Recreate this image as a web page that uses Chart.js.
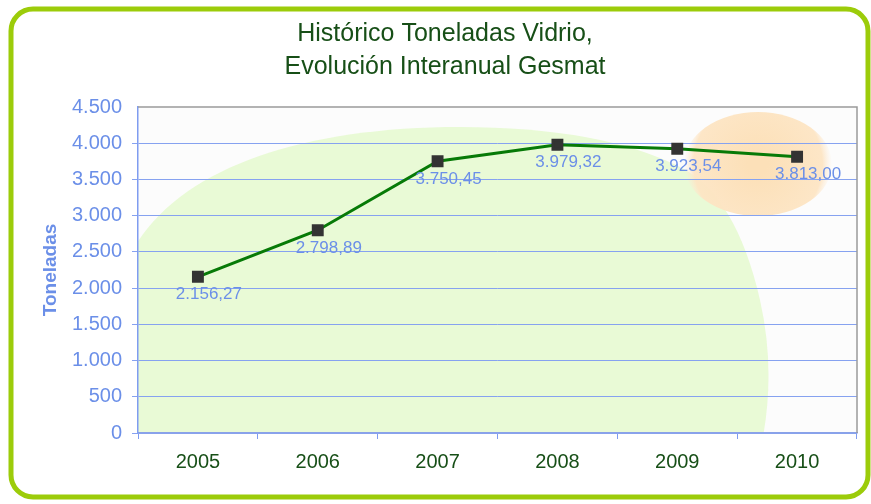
<!DOCTYPE html>
<html>
<head>
<meta charset="utf-8">
<script src="https://cdn.jsdelivr.net/npm/chart.js@4"></script>
<style>
  html, body { margin: 0; padding: 0; background: #fff; }
  #wrap { width: 871px; height: 504px; }
</style>
</head>
<body>
<div id="wrap"><canvas id="vidrioChart"></canvas></div>
<script>
const years = ['2005', '2006', '2007', '2008', '2009', '2010'];
const toneladas = [2156.27, 2798.89, 3750.45, 3979.32, 3923.54, 3813.00];
const titleLines = ['Histórico Toneladas Vidrio,', 'Evolución Interanual Gesmat'];

const blue = '#6b8fe8';
const darkGreen = '#174f17';
const fontFamily = '"Liberation Sans", Arial, sans-serif';

function formatEs(v, decimals) {
    const parts = v.toFixed(decimals).split('.');
    const ints = parts[0].replace(/\B(?=(\d{3})+(?!\d))/g, '.');
    return parts.length > 1 ? ints + ',' + parts[1] : ints;
}

// green rounded frame and the two-line title (centred a bit right of the canvas middle)
const framePlugin = {
    id: 'frame',
    afterDraw(chart) {
        const ctx = chart.ctx;
        ctx.save();
        ctx.strokeStyle = '#9ccc0a';
        ctx.lineWidth = 5;
        ctx.beginPath();
        ctx.roundRect(11, 9, 857, 488, 22);
        ctx.stroke();

        ctx.fillStyle = darkGreen;
        ctx.font = '25px ' + fontFamily;
        ctx.textAlign = 'center';
        ctx.textBaseline = 'middle';
        titleLines.forEach((line, i) => ctx.fillText(line, 445, 34 + i * 33));
        ctx.restore();
    }
};

// the soft clip-art blobs behind the plot
const backdropPlugin = {
    id: 'backdrop',
    beforeDraw(chart) {
        const { ctx, chartArea: a } = chart;
        ctx.save();
        ctx.beginPath();
        ctx.rect(a.left, a.top, a.right - a.left, a.bottom - a.top);
        ctx.clip();
        ctx.fillStyle = '#fcfcfc';
        ctx.fillRect(a.left, a.top, a.right - a.left, a.bottom - a.top);

        ctx.fillStyle = '#e9fad6';
        ctx.beginPath();
        ctx.moveTo(120, 280);
        ctx.bezierCurveTo(150, 180, 280, 127, 460, 127);
        ctx.quadraticCurveTo(600, 127, 680, 167);
        ctx.quadraticCurveTo(736, 195, 760, 300);
        ctx.quadraticCurveTo(778, 380, 758, 460);
        ctx.lineTo(120, 460);
        ctx.closePath();
        ctx.fill();

        const g = ctx.createRadialGradient(758, 164, 10, 758, 164, 74);
        g.addColorStop(0, 'rgba(252,224,184,1)');
        g.addColorStop(0.85, 'rgba(253,229,196,0.95)');
        g.addColorStop(1, 'rgba(253,236,214,0)');
        ctx.fillStyle = g;
        ctx.beginPath();
        ctx.ellipse(758, 164, 74, 52, 0, 0, Math.PI * 2);
        ctx.fill();
        ctx.restore();
    },
    beforeDatasetsDraw(chart) {
        const { ctx, chartArea: a } = chart;
        ctx.save();
        ctx.strokeStyle = '#9a9a9a';
        ctx.lineWidth = 1.5;
        ctx.beginPath();
        ctx.moveTo(a.left, a.top);
        ctx.lineTo(a.right, a.top);
        ctx.lineTo(a.right, a.bottom);
        ctx.stroke();
        ctx.restore();
    }
};

// value labels under each point
const valueLabels = {
    id: 'valueLabels',
    afterDatasetsDraw(chart) {
        const ctx = chart.ctx;
        const meta = chart.getDatasetMeta(0);
        ctx.save();
        ctx.font = '17px ' + fontFamily;
        ctx.fillStyle = blue;
        ctx.textAlign = 'center';
        ctx.textBaseline = 'middle';
        meta.data.forEach((pt, i) => {
            ctx.fillText(formatEs(toneladas[i], 2), pt.x + 11, pt.y + 18);
        });
        ctx.restore();
    }
};

const ctx = document.getElementById('vidrioChart').getContext('2d');
const chart = new Chart(ctx, {
    type: 'line',
    data: {
        labels: years,
        datasets: [{
            data: toneladas,
            borderColor: '#077a07',
            borderWidth: 3,
            pointStyle: 'rect',
            pointRadius: 6.3,
            pointBackgroundColor: '#333333',
            pointBorderColor: '#333333',
            tension: 0
        }]
    },
    options: {
        responsive: true,
        maintainAspectRatio: false,
        animation: false,
        layout: { padding: { left: 0, right: 14, top: 107, bottom: 0 } },
        plugins: {
            legend: { display: false },
            tooltip: { enabled: false },
            title: { display: false }
        },
        scales: {
            x: {
                offset: true,
                grid: {
                    offset: true,
                    drawOnChartArea: false,
                    color: '#7f9cf0',
                    tickLength: 6
                },
                border: { color: '#8aa2e8', width: 1.5 },
                ticks: {
                    color: darkGreen,
                    font: { family: fontFamily, size: 20 },
                    padding: 11
                },
                afterFit(scale) { scale.height = 71; }
            },
            y: {
                min: 0,
                max: 4500,
                ticks: {
                    stepSize: 500,
                    color: blue,
                    font: { family: fontFamily, size: 20 },
                    padding: 10,
                    callback: v => formatEs(v, 0)
                },
                grid: {
                    color: ctx => ctx.tick && ctx.tick.value === 4500 ? 'rgba(0,0,0,0)' : '#86a2f0',
                    tickLength: 6
                },
                border: { color: '#7f9cf0', width: 1.5 },
                title: {
                    display: true,
                    text: 'Toneladas',
                    color: blue,
                    font: { family: fontFamily, size: 19, weight: 'bold' },
                    padding: { top: 39, bottom: 0 }
                },
                afterFit(scale) { scale.width = 138; }
            }
        }
    },
    plugins: [backdropPlugin, valueLabels, framePlugin]
});
</script>
</body>
</html>
